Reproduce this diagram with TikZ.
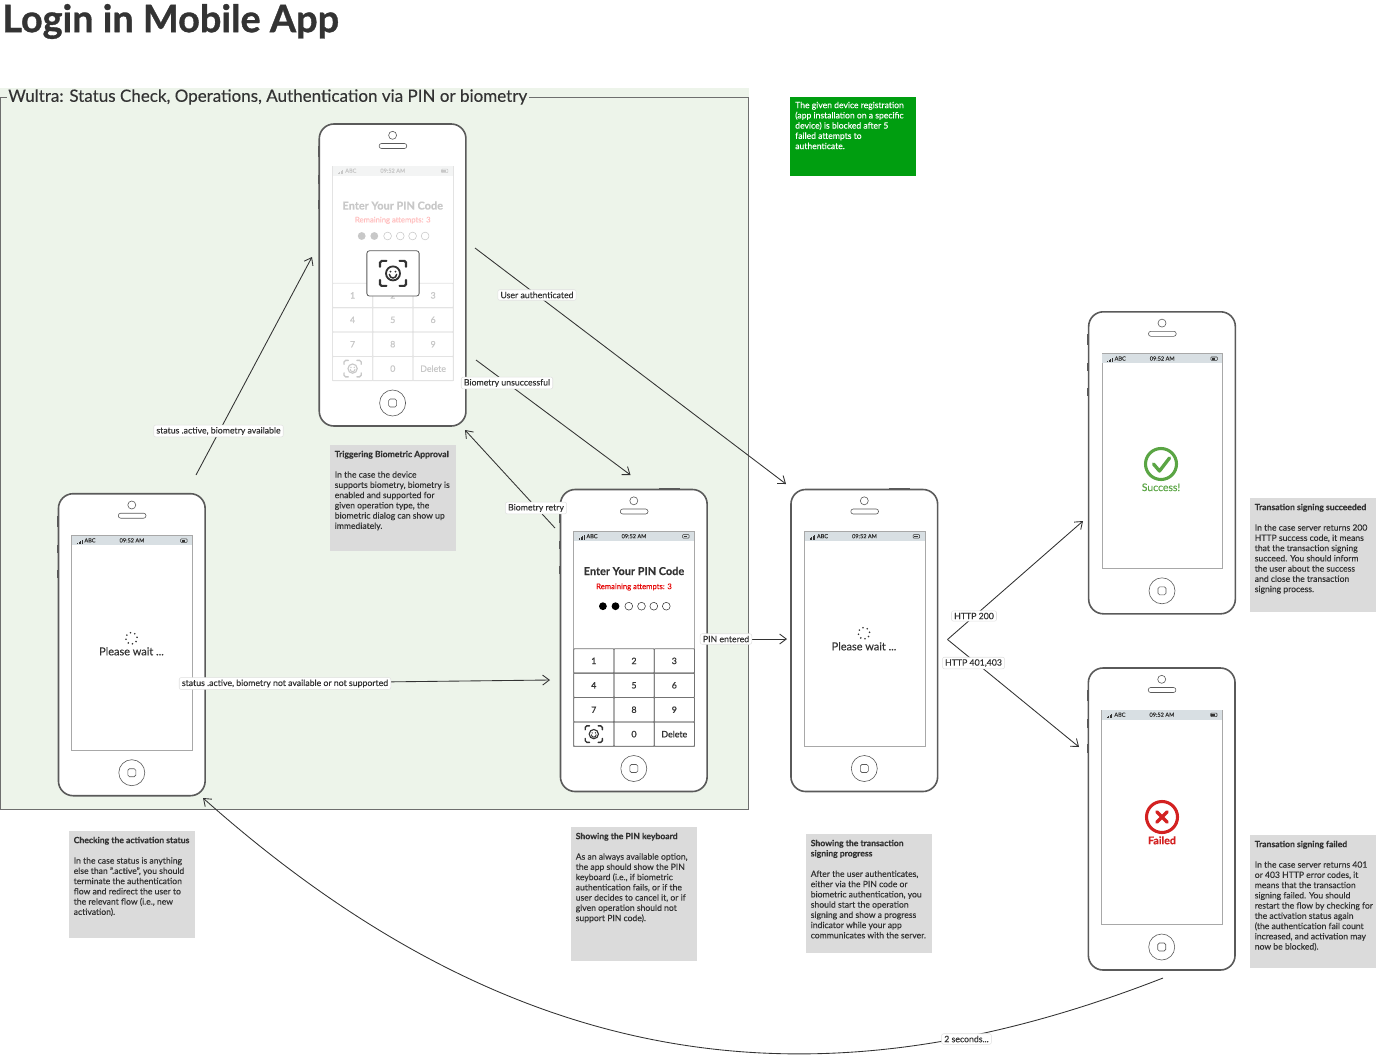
\documentclass[tikz,border=0pt]{standalone}
\usepackage{fontspec}
\setmainfont{Lato}[FakeBold=0.2]
\newfontfamily\thickfont{Lato}[FakeBold=0.9]
\usetikzlibrary{arrows.meta}
\definecolor{panelgreen}{HTML}{EDF4EA}
\definecolor{framegray}{HTML}{6E6E6E}
\definecolor{phonegray}{HTML}{5A5A5A}
\definecolor{notegray}{HTML}{DBDBDB}
\definecolor{inkdark}{HTML}{333333}
\definecolor{barblue}{HTML}{D8DFE3}
\definecolor{scrline}{HTML}{A8A8A8}
\definecolor{fadeline}{HTML}{E3E3E3}
\definecolor{fadetext}{HTML}{C8C8C8}
\definecolor{fadebar}{HTML}{F3F4F4}
\definecolor{okgreen}{HTML}{5AA544}
\definecolor{badred}{HTML}{D32121}
\definecolor{boxgreen}{HTML}{009E10}
\tikzset{
  phonebody/.style={draw=phonegray,line width=1.2pt,fill=white,rounded corners=11pt,minimum width=110pt,minimum height=226.5pt,inner sep=0pt},
  phonepart/.style={draw=phonegray,line width=0.45pt,fill=white},
  phoneknob/.style={fill=phonegray},
  connarrow/.style={draw=inkdark,line width=0.65pt,-{Straight Barb[length=5pt,width=7.5pt]}},
  edgelabel/.style={draw=black!12,line width=0.4pt,fill=white,rounded corners=1.5pt,inner xsep=2pt,inner ysep=1.5pt,text=inkdark,font=\fontsize{6.55}{8}\selectfont},
  noteback/.style={fill=notegray},
  notetext/.style={anchor=north west,align=left,inner sep=0pt,text=inkdark,font=\fontsize{6.45}{7.68}\selectfont},
  wiretext/.style={inner sep=0pt}
}
\newcommand{\phoneshape}[3]{%
\begin{scope}[shift={(#2,#3)}]
  \fill[phoneknob] (98,-1.2) rectangle (119,0.5);
  \fill[phoneknob] (-1.3,22) rectangle (0,33);
  \fill[phoneknob] (-1.3,51) rectangle (0,59.5);
  \fill[phoneknob] (-1.3,76) rectangle (0,84.5);
  \node[phonebody] (#1) at (73.3,151) {};
  \draw[phonepart] (73.3,11.3) circle (4);
  \draw[phonepart,rounded corners=1.8pt] (59.8,19.5) rectangle (87.5,24.5);
  \draw[phonepart] (73.3,279) circle (13);
  \draw[phonepart,rounded corners=1.2pt] (69.3,275) rectangle (77.3,283);
\end{scope}}
\newcommand{\phonescreen}[6]{%
\begin{scope}[shift={(#2,#3)}]
  \draw[draw=#4,line width=0.6pt,fill=white] (13.2,42) rectangle (133.9,256.6);
  \fill[#5] (13.5,42.3) rectangle (133.6,51.5);
  \foreach \bi in {0,1,2,3}{\fill[#6] ({18.5+1.5*\bi},50) rectangle ({19.3+1.5*\bi},{48.8-1*\bi});}
  \node[wiretext,text=#6,font=\fontsize{4.2}{5}\selectfont] (#1abc) at (31.5,46.7) {ABC};
  \node[wiretext,text=#6,font=\fontsize{4.2}{5}\selectfont] (#1time) at (73.5,46.7) {09:52 AM};
  \draw[#6,line width=0.4pt,rounded corners=0.5pt] (122.2,45.2) rectangle (128.6,48.6);
  \fill[#6] (123,46) rectangle (126.6,47.8);
\end{scope}}
\newcommand{\faceicon}[5]{%
\begin{scope}[shift={(#1,#2)},scale=#3,line cap=round]
  \draw[#4,line width=#5,rounded corners=1.2pt]
    (-13,-6.5) -- (-13,-12.5) -- (-6.5,-12.5)
    (6.5,-12.5) -- (13,-12.5) -- (13,-6.5)
    (13,6.5) -- (13,12.5) -- (6.5,12.5)
    (-6.5,12.5) -- (-13,12.5) -- (-13,6.5);
  \draw[#4,line width=0.85*#5] (0,0) circle (7);
  \fill[#4] (-2.5,-1.8) circle (1.1) (2.5,-1.8) circle (1.1);
  \draw[#4,line width=0.7*#5] (-3.6,1) arc[start angle=180,end angle=0,radius=3.6];
\end{scope}}
\newcommand{\pinscreen}[5]{%
\begin{scope}[shift={(#1,#2)}]
  \foreach \ri in {0,1,2,3}{\foreach \ci in {0,1,2}{
     \draw[#3,line width=0.6pt,rounded corners=0.6pt] ({13.2+40.25*\ci},{159.2+24.4*\ri}) rectangle ({13.2+40.25*(\ci+1)},{159.2+24.4*(\ri+1)});}}
  \foreach \lab/\lx/\ly in {1/33.3/171.4,2/73.5/171.4,3/113.8/171.4,4/33.3/195.8,5/73.5/195.8,6/113.8/195.8,7/33.3/220.2,8/73.5/220.2,9/113.8/220.2,0/73.5/244.6}{
     \node[wiretext,text=#4,font=\fontsize{6.6}{8}\thickfont\selectfont] (#5k\lab) at (\lx,\ly) {\lab};}
  \node[wiretext,text=#4,font=\fontsize{6.6}{8}\thickfont\selectfont] (#5del) at (113.8,244.6) {Delete};
  \faceicon{33.3}{244.6}{0.66}{#4}{1pt}
\end{scope}}
\newcommand{\pinhead}[8]{%
\begin{scope}[shift={(#1,#2)}]
  \node[wiretext,text=#3,font=\fontsize{8.2}{10}\bfseries\selectfont] (#6title) at (73.5,81.5) {Enter Your PIN Code};
  \node[wiretext,text=#4,font=\fontsize{5.75}{7}\selectfont] (#6rem) at (73.5,#8) {Remaining attempts: 3};
  \fill[#5] (42.4,#7) circle (3.9) (55,#7) circle (3.9);
  \foreach \dx in {68.3,81,93.3,105.8}{\draw[#3,line width=0.4pt] (\dx,#7) circle (3.9);}
\end{scope}}
\newcommand{\spinnerwait}[3]{%
  \foreach \sa in {10,55,...,325}{\fill[inkdark] ({#2+5.6*cos(\sa)},{#3-5.6*sin(\sa)}) circle (0.9);}
  \node[wiretext,text=inkdark,font=\fontsize{8.2}{10}\selectfont] (#1) at (#2,{#3+13}) {Please wait ...};}
\newcommand{\notebox}[6]{%
  \fill[noteback] (#2,#3) rectangle ({#2+#4},{#3+#5});
  \node[notetext] (#1) at ({#2+4.5},{#3+5.5}) {#6};}
\begin{document}
\begin{tikzpicture}[x=0.75pt,y=-0.75pt]
\useasboundingbox (0,0) rectangle (1378,1054);
\fill[panelgreen] (0,88) rectangle (749,810);
\draw[framegray,line width=0.5pt] (0.3,97) -- (0.3,809.7) -- (748.5,809.7) -- (748.5,97) -- (0.3,97);
\fill[panelgreen] (7,88) rectangle (529,104);
\node[wiretext,anchor=west,text=inkdark,font=\fontsize{12.75}{16}\selectfont] (legend) at (8,97) {Wultra: Status Check, Operations, Authentication via PIN or biometry};
\node[wiretext,anchor=west,text=inkdark,font=\fontsize{28.4}{34}\thickfont\bfseries\selectfont] (title) at (2,21.5) {Login in Mobile App};

\phoneshape{phonestatus}{58.5}{493.7}
\phonescreen{phonestatus}{58.5}{493.7}{scrline}{barblue}{inkdark}
\spinnerwait{waitone}{131.5}{638.3}

\phoneshape{phonebio}{319.3}{124}
\phonescreen{phonebio}{319.3}{124}{fadeline}{fadebar}{fadetext}
\pinhead{319.3}{124}{fadetext}{red!25}{fadetext}{bio}{112}{96.3}
\pinscreen{319.3}{124}{fadeline}{fadetext}{bio}
\node[draw=phonegray,line width=0.6pt,fill=white,rounded corners=2pt,minimum width=39.2pt,minimum height=34pt,inner sep=0pt] (biobox) at (393,273.4) {};
\faceicon{393}{273.4}{1}{inkdark}{1.6pt}

\phoneshape{phonepin}{560.5}{489.5}
\phonescreen{phonepin}{560.5}{489.5}{scrline}{barblue}{inkdark}
\pinhead{560.5}{489.5}{inkdark}{red!90!black}{black}{pin}{116.7}{97.5}
\pinscreen{560.5}{489.5}{black!55}{inkdark}{pin}

\phoneshape{phonewait}{791}{489.5}
\phonescreen{phonewait}{791}{489.5}{scrline}{barblue}{inkdark}
\spinnerwait{waittwo}{864}{633.3}

\phoneshape{phoneok}{1088.7}{311.8}
\phonescreen{phoneok}{1088.7}{311.8}{scrline}{barblue}{inkdark}
\draw[okgreen,line width=2.3pt] (1161,464) circle (15.5);
\draw[okgreen,line width=2.5pt,line cap=round,line join=round] (1153.5,464) -- (1159.5,471) -- (1169.5,458);
\node[wiretext,text=okgreen,font=\fontsize{7.8}{9}\selectfont] (oktext) at (1161,487.3) {Success!};

\phoneshape{phonefail}{1088.4}{668}
\phonescreen{phonefail}{1088.4}{668}{scrline}{barblue}{inkdark}
\draw[badred,line width=2.3pt] (1162,817) circle (15.5);
\draw[badred,line width=2.6pt,line cap=round] (1156.8,811.8) -- (1167.2,822.2) (1167.2,811.8) -- (1156.8,822.2);
\node[wiretext,text=badred,font=\fontsize{8}{9}\bfseries\selectfont] (failtext) at (1162,840.3) {Failed};

\fill[boxgreen] (790,97) rectangle (916,176);
\node[notetext,text=white] (greennote) at (795,101.5) {The given device registration\\(app installation on a specific\\device) is blocked after 5\\failed attempts to\\authenticate.};

\notebox{notebio}{330}{445}{126}{106}{\textbf{Triggering Biometric Approval}\\\mbox{}\\In the case the device\\supports biometry, biometry is\\enabled and supported for\\given operation type, the\\biometric dialog can show up\\immediately.}
\notebox{notestatus}{69}{831}{126}{107}{\textbf{Checking the activation status}\\\mbox{}\\In the case status is anything\\else than ".active", you should\\terminate the authentication\\flow and redirect the user to\\the relevant flow (i.e., new\\activation).}
\notebox{notepin}{571}{827}{126}{134}{\textbf{Showing the PIN keyboard}\\\mbox{}\\As an always available option,\\the app should show the PIN\\keyboard (i.e., if biometric\\authentication fails, or if the\\user decides to cancel it, or if\\given operation should not\\support PIN code).}
\notebox{notewait}{806}{834}{126}{119}{\textbf{Showing the transaction}\\\textbf{signing progress}\\\mbox{}\\After the user authenticates,\\either via the PIN code or\\biometric authentication, you\\should start the operation\\signing and show a progress\\indicator while your app\\communicates with the server.}
\notebox{noteok}{1250}{498}{126}{114}{\textbf{Transation signing succeeded}\\\mbox{}\\In the case server returns 200\\HTTP success code, it means\\that the transaction signing\\succeed. You should inform\\the user about the success\\and close the transaction\\signing process.}
\notebox{notefail}{1250}{835}{126}{133}{\textbf{Transation signing failed}\\\mbox{}\\In the case server returns 401\\or 403 HTTP error codes, it\\means that the transaction\\signing failed. You should\\restart the flow by checking for\\the activation status again\\(the authentication fail count\\increased, and activation may\\now be blocked).}

\coordinate (c1a) at (196,475);   \coordinate (c1b) at (312,257);
\coordinate (c2a) at (205,684);   \coordinate (c2b) at (550,680);
\coordinate (c3a) at (475,248);   \coordinate (c3b) at (786,484);
\coordinate (c4a) at (476,360);   \coordinate (c4b) at (630.5,475);
\coordinate (c5a) at (555,528);   \coordinate (c5b) at (465,430);
\coordinate (c6a) at (704,639);   \coordinate (c6b) at (787,639);
\coordinate (c7a) at (947.5,639.5);   \coordinate (c7b) at (1083,521);
\coordinate (c8a) at (947.5,639.5);   \coordinate (c8b) at (1079,747);
\coordinate (c9a) at (1163,978);  \coordinate (c9b) at (203,798);
\draw[connarrow] (c1a) -- (c1b);
\draw[connarrow] (c2a) -- (c2b);
\draw[connarrow] (c3a) -- (c3b);
\draw[connarrow] (c4a) -- (c4b);
\draw[connarrow] (c5a) -- (c5b);
\draw[connarrow] (c6a) -- (c6b);
\draw[connarrow] (c7a) -- (c7b);
\draw[connarrow] (c8a) -- (c8b);
\draw[connarrow] (c9a) .. controls (850,1100) and (540,1098) .. (c9b);
\node[edgelabel] (l1) at (218.5,431) {status .active, biometry available};
\node[edgelabel] (l2) at (285,683.5) {status .active, biometry not available or not supported};
\node[edgelabel] (l3) at (537,295) {User authenticated};
\node[edgelabel] (l4) at (507,383) {Biometry unsuccessful};
\node[edgelabel] (l5) at (536,508) {Biometry retry};
\node[edgelabel] (l6) at (726,639) {PIN entered};
\node[edgelabel] (l7) at (974,616) {HTTP 200};
\node[edgelabel] (l8) at (973.5,663) {HTTP 401,403};
\node[edgelabel] (l9) at (966.5,1039) {2 seconds...};
\end{tikzpicture}
\end{document}
